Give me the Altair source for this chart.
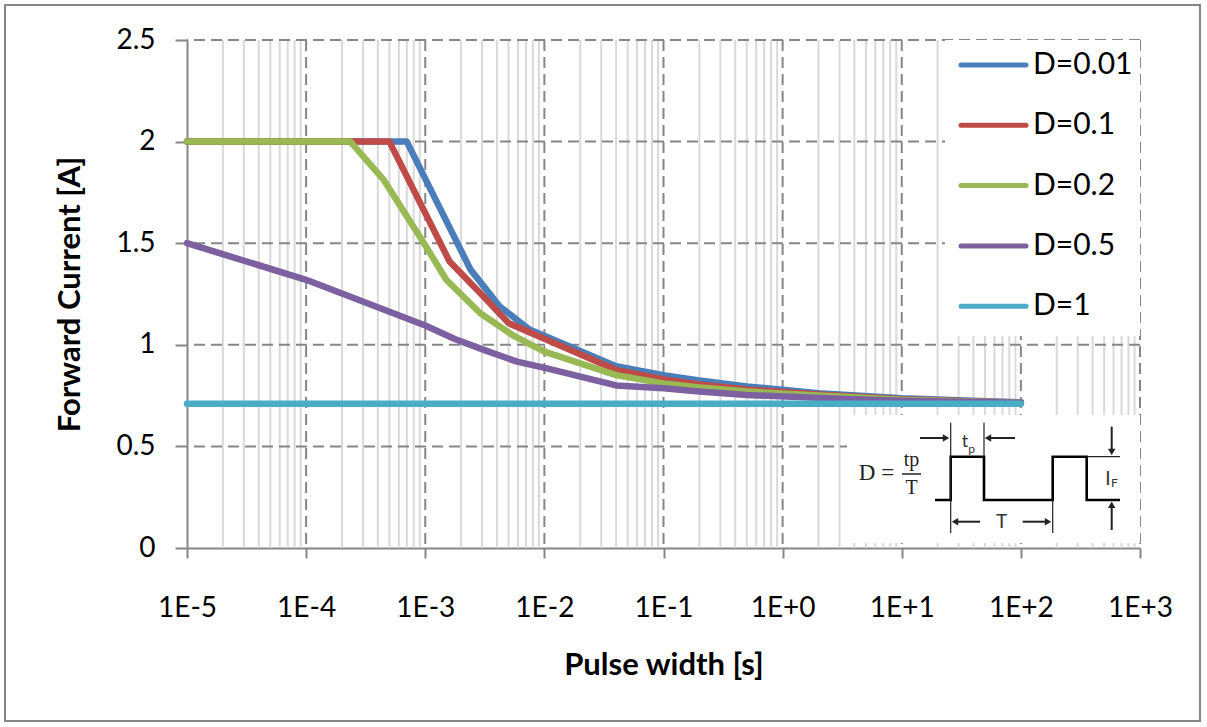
import altair as alt
import pandas as pd

# ---------------- data ----------------
series_names = ["D=0.01", "D=0.1", "D=0.2", "D=0.5", "D=1"]
series_colors = ["#4A7EBB", "#BE4B48", "#98B954", "#7D60A0", "#4BACC6"]

x_d001 = [1e-5, 7e-4, 2.4e-3, 4.2e-3, 7.5e-3, 2e-2, 4e-2, 1e-1, 2e-1, 5e-1, 2, 10, 30, 100]
y_d001 = [2.0, 2.0, 1.37, 1.19, 1.075, 0.97, 0.895, 0.85, 0.825, 0.795, 0.762, 0.737, 0.727, 0.717]

x_d01 = [1e-5, 5e-4, 1.6e-3, 3e-3, 5e-3, 1e-2, 2e-2, 4e-2, 1e-1, 2e-1, 5e-1, 2, 10, 100]
y_d01 = [2.0, 2.0, 1.41, 1.245, 1.107, 1.03, 0.953, 0.876, 0.83, 0.805, 0.78, 0.755, 0.732, 0.715]

x_d02 = [1e-5, 2.35e-4, 4.5e-4, 1e-3, 1.5e-3, 2.9e-3, 5.4e-3, 1e-2, 4e-2, 1e-1, 2e-1, 5e-1, 2, 10, 100]
y_d02 = [2.0, 2.0, 1.81, 1.49, 1.32, 1.155, 1.048, 0.966, 0.851, 0.81, 0.79, 0.77, 0.75, 0.73, 0.715]

x_d05 = [1e-5, 1e-4, 1e-3, 1.75e-3, 3.1e-3, 5.9e-3, 1.05e-2, 4e-2, 1e-1, 2e-1, 5e-1, 3, 10, 100]
y_d05 = [1.5, 1.32, 1.095, 1.03, 0.975, 0.917, 0.884, 0.80, 0.786, 0.77, 0.753, 0.735, 0.725, 0.715]

x_d1 = [1e-5, 100]
y_d1 = [0.71, 0.71]

x_tick_values = [1e-5, 1e-4, 1e-3, 1e-2, 1e-1, 1e0, 1e1, 1e2, 1e3]
y_tick_values = [0, 0.5, 1.0, 1.5, 2.0, 2.5]
minor_x = [k * 10.0 ** e for e in range(-5, 3) for k in range(2, 10)]
major_x = x_tick_values[1:]
major_y = y_tick_values[1:]

# ---------------- tables ----------------
rows = []
for name, xs, ys in zip(series_names,
                        [x_d001, x_d01, x_d02, x_d05, x_d1],
                        [y_d001, y_d01, y_d02, y_d05, y_d1]):
    for xv, yv in zip(xs, ys):
        rows.append({"series": name, "x": xv, "y": yv})
df_lines = pd.DataFrame(rows)

W, H = 953, 508

color_scale = alt.Scale(domain=series_names, range=series_colors)
xscale = alt.Scale(type="log", domain=[1e-5, 1e3])
yscale = alt.Scale(domain=[0, 2.5])

AX = "#868686"
x_axis = alt.Axis(
    values=x_tick_values,
    labelExpr="'1E' + (round(log(datum.value)/LN10) >= 0 ? '+' : '') + round(log(datum.value)/LN10)",
    title="Pulse width [s]", grid=False,
    domainColor=AX, domainWidth=2, tickColor=AX, tickWidth=2, tickSize=10,
    labelFont="Lato", labelFontSize=28, labelColor="black", labelPadding=36,
    labelFlush=False, labelOverlap=False,
    titleFont="Lato", titleFontSize=31, titleFontWeight="bold", titleColor="black",
    titlePadding=28,
)
y_axis = alt.Axis(
    values=y_tick_values, labelExpr="'' + datum.value",
    title="Forward Current [A]", grid=False,
    domainColor=AX, domainWidth=2, tickColor=AX, tickWidth=2, tickSize=12,
    labelFont="Lato", labelFontSize=28, labelColor="black", labelPadding=20,
    titleFont="Lato", titleFontSize=31, titleFontWeight="bold", titleColor="black",
    titlePadding=29,
)

one = pd.DataFrame({"a": [0]})

border = alt.Chart(one).mark_rect(fillOpacity=0, stroke=AX, strokeWidth=2).encode(
    x=alt.value(-182), x2=alt.value(1013), y=alt.value(-35), y2=alt.value(681)
)

minor = alt.Chart(pd.DataFrame({"x": minor_x})).mark_rule(color="#D9D9D9", strokeWidth=2).encode(
    x=alt.X("x:Q", scale=xscale, axis=x_axis)
)
major_v = alt.Chart(pd.DataFrame({"x": major_x})).mark_rule(
    color=AX, strokeWidth=2, strokeDash=[11, 6]
).encode(x=alt.X("x:Q", scale=xscale, axis=x_axis))
major_h = alt.Chart(pd.DataFrame({"y": major_y})).mark_rule(
    color=AX, strokeWidth=2, strokeDash=[11, 6]
).encode(y=alt.Y("y:Q", scale=yscale, axis=y_axis))

inset_box = alt.Chart(one).mark_rect(fill="white").encode(
    x=alt.value(660), x2=alt.value(953), y=alt.value(375), y2=alt.value(503)
)
legend_box = alt.Chart(one).mark_rect(fill="white").encode(
    x=alt.value(758), x2=alt.value(953), y=alt.value(0), y2=alt.value(296)
)

lines = alt.Chart(df_lines).mark_line(strokeWidth=6.5, strokeCap="round", strokeJoin="round").encode(
    x=alt.X("x:Q", scale=xscale, axis=x_axis),
    y=alt.Y("y:Q", scale=yscale, axis=y_axis),
    color=alt.Color("series:N", scale=color_scale, legend=None),
)

# ---------------- legend (drawn inside plot) ----------------
df_leg = pd.DataFrame({"series": series_names, "ly": [25 + 60.3 * i for i in range(5)]})
leg_sym = alt.Chart(df_leg).mark_rule(strokeWidth=5, strokeCap="round").encode(
    x=alt.value(774), x2=alt.value(839),
    y=alt.Y("ly:Q", scale=None, axis=None),
    color=alt.Color("series:N", scale=color_scale, legend=None),
)
leg_txt = alt.Chart(df_leg).mark_text(
    align="left", baseline="middle", font="Lato", fontSize=30, color="black"
).encode(x=alt.value(846), y=alt.Y("ly:Q", scale=None, axis=None), text="series:N")

# ---------------- inset diagram (pixel geometry) ----------------
wave_px = [748, 763.7, 763.7, 797, 797, 865.7, 865.7, 899.7, 899.7, 933]
wave_py = [460, 460, 416.7, 416.7, 460, 460, 416.7, 416.7, 460, 460]
df_wave = pd.DataFrame({"px": wave_px, "py": wave_py, "i": list(range(len(wave_px)))})
wave = alt.Chart(df_wave).mark_line(color="black", strokeWidth=2.6).encode(
    x=alt.X("px:Q", scale=None, axis=None),
    y=alt.Y("py:Q", scale=None, axis=None),
    order="i:Q",
)

seg_x1 = [899.7, 763.7, 797, 865.7, 733, 828, 793, 835.7, 924.7, 924.7, 715]
seg_y1 = [416.7, 382.7, 382.7, 460, 398, 398, 481.7, 481.7, 386.7, 490, 434]
seg_x2 = [933, 763.7, 797, 865.7, 759, 801, 768, 861, 924.7, 924.7, 734]
seg_y2 = [416.7, 493, 416.7, 493, 398, 398, 481.7, 481.7, 412, 464.7, 434]
seg_w = [1.2, 1.2, 1.2, 1.2, 2, 2, 2, 2, 2, 2, 1.5]
df_seg = pd.DataFrame({"px": seg_x1, "py": seg_y1, "px2": seg_x2, "py2": seg_y2, "w": seg_w})
segs = alt.Chart(df_seg).mark_rule(color="#222222").encode(
    x=alt.X("px:Q", scale=None, axis=None), x2="px2:Q",
    y=alt.Y("py:Q", scale=None, axis=None), y2="py2:Q",
    strokeWidth=alt.StrokeWidth("w:Q", scale=None, legend=None),
)

head_px = [759, 801, 768, 861, 924.7, 924.7]
head_py = [398, 398, 481.7, 481.7, 412, 464.7]
head_shape = ["triangle-right", "triangle-left", "triangle-left", "triangle-right", "triangle-down", "triangle-up"]
df_head = pd.DataFrame({"px": head_px, "py": head_py, "shape": head_shape})
heads = alt.Chart(df_head).mark_point(filled=True, color="#222222", size=55, opacity=1).encode(
    x=alt.X("px:Q", scale=None, axis=None),
    y=alt.Y("py:Q", scale=None, axis=None),
    shape=alt.Shape("shape:N", scale=None, legend=None),
)

serif_txt = ["D =", "tp", "T"]
serif_px = [689.5, 724.5, 724.5]
serif_py = [433, 420, 448]
serif_sz = [23, 20, 20]
df_serif = pd.DataFrame({"t": serif_txt, "px": serif_px, "py": serif_py, "s": serif_sz})
serif = alt.Chart(df_serif).mark_text(
    font="Liberation Serif", color="#222222", align="center", baseline="middle"
).encode(
    x=alt.X("px:Q", scale=None, axis=None), y=alt.Y("py:Q", scale=None, axis=None),
    text="t:N", size=alt.Size("s:Q", scale=None, legend=None),
)

sans_txt = ["t", "p", "T", "I", "F"]
sans_px = [778, 784.5, 814.7, 921, 927.5]
sans_py = [402, 409, 481.7, 438.5, 443]
sans_sz = [18, 12, 19, 19, 12]
df_sans = pd.DataFrame({"t": sans_txt, "px": sans_px, "py": sans_py, "s": sans_sz})
sans = alt.Chart(df_sans).mark_text(
    font="Lato", color="#333333", align="center", baseline="middle"
).encode(
    x=alt.X("px:Q", scale=None, axis=None), y=alt.Y("py:Q", scale=None, axis=None),
    text="t:N", size=alt.Size("s:Q", scale=None, legend=None),
)

chart = alt.layer(
    border, minor, major_v, major_h, inset_box, legend_box, lines,
    leg_sym, leg_txt, wave, segs, heads, serif, sans,
).properties(
    width=W, height=H,
    padding={"left": 187, "top": 40, "right": 67, "bottom": 179},
    autosize=alt.AutoSizeParams(type="none"),
    background="white",
).configure_view(strokeWidth=0)

chart.save("out.html", embed_options={"renderer": "svg", "actions": False})
